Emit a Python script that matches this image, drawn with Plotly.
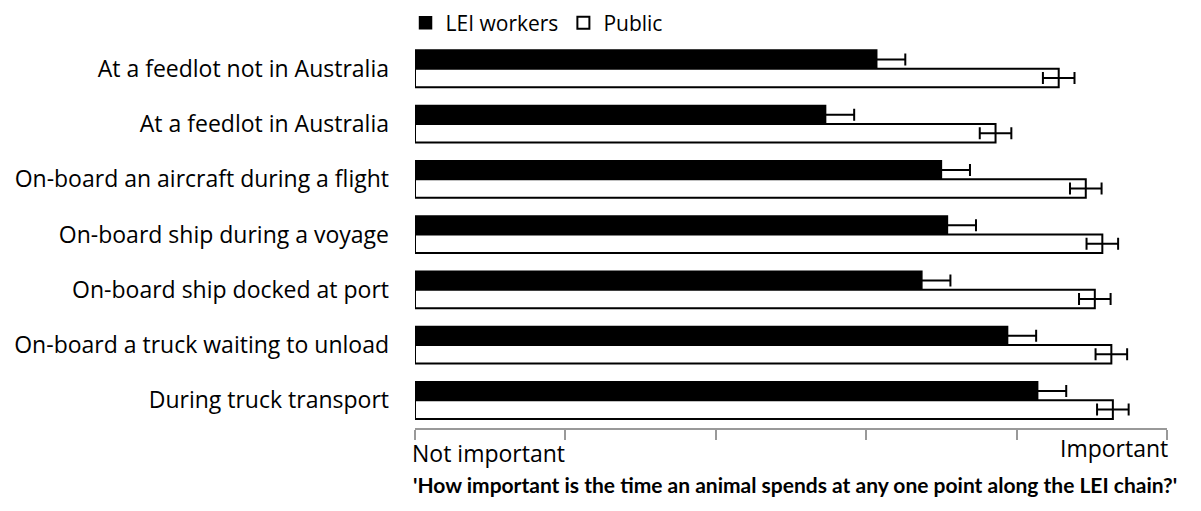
import plotly.graph_objects as go

# categories listed top to bottom
categories = [
    "At a feedlot not in Australia",
    "At a feedlot in Australia",
    "On-board an aircraft during a flight",
    "On-board ship during a voyage",
    "On-board ship docked at port",
    "On-board a truck waiting to unload",
    "During truck transport",
]
lei_workers = [3.07, 2.73, 3.50, 3.54, 3.37, 3.94, 4.14]
lei_err = [0.19, 0.19, 0.19, 0.19, 0.19, 0.19, 0.19]
public = [4.28, 3.86, 4.46, 4.57, 4.52, 4.63, 4.64]
public_err = [0.105, 0.105, 0.105, 0.105, 0.105, 0.105, 0.105]
tick_vals = [0, 1, 2, 3, 4, 5]

FONT = "Open Sans"
FS = 23

fig = go.Figure()
fig.add_trace(go.Bar(
    name="LEI workers", y=categories, x=lei_workers, orientation="h",
    marker=dict(color="black", line=dict(color="black", width=1.5)),
    error_x=dict(type="data", array=lei_err, color="black", thickness=2, width=6),
))
fig.add_trace(go.Bar(
    name="Public", y=categories, x=public, orientation="h",
    marker=dict(color="white", line=dict(color="black", width=2)),
    error_x=dict(type="data", array=public_err, color="black", thickness=2, width=6),
))

fig.update_layout(
    width=1201, height=511,
    margin=dict(l=407, r=42, t=33, b=91, autoexpand=False),
    plot_bgcolor="white", paper_bgcolor="white",
    barmode="group", bargap=0.33, bargroupgap=0,
    font=dict(family=FONT, size=FS, color="black"),
    legend=dict(orientation="h", x=-0.0126, y=1.0465, xanchor="left", yanchor="middle",
                font=dict(size=21), itemwidth=30, tracegroupgap=0),
    showlegend=True,
)
fig.update_xaxes(
    range=[0, 5], tickvals=tick_vals, showticklabels=False,
    ticks="outside", ticklen=10, tickcolor="#999999", tickwidth=1.5,
    showline=True, linecolor="#999999", linewidth=1.5,
    showgrid=False, zeroline=False,
)
fig.update_yaxes(
    autorange="reversed", showline=False, showgrid=False, ticks="",
    ticklabelstandoff=25, tickfont=dict(size=FS),
)

fig.add_annotation(x=0, y=0, xref="x", yref="paper", yshift=-25, text="Not important",
                   showarrow=False, xanchor="left", yanchor="middle", xshift=-5,
                   font=dict(size=FS))
fig.add_annotation(x=5, y=0, xref="x", yref="paper", yshift=-20, text="Important",
                   showarrow=False, xanchor="right", yanchor="middle", xshift=3,
                   font=dict(size=FS))
fig.add_annotation(x=0.505, y=0, xref="paper", yref="paper", yshift=-56,
                   text="<b>'How important is the time an animal spends at any one point along the LEI chain?'</b>",
                   showarrow=False, xanchor="center", yanchor="middle",
                   font=dict(family="Lato", size=21))

fig.write_html("out.html")
